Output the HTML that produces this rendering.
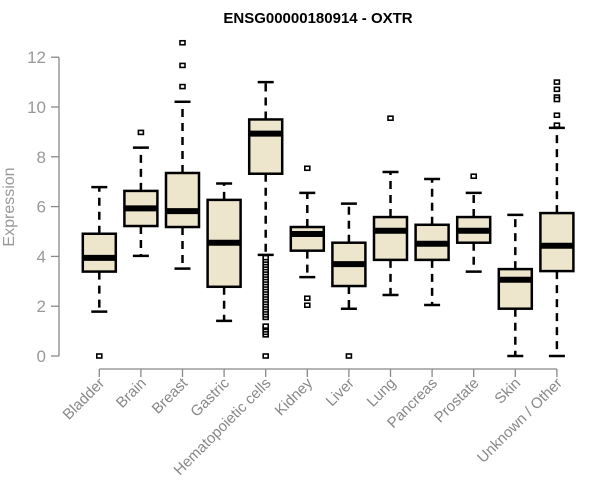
<!DOCTYPE html>
<html><head><meta charset="utf-8"><style>
body{margin:0;background:#fff;}
svg{display:block;font-family:"Liberation Sans",Arial,sans-serif;}
</style></head><body>
<svg id="chart" width="600" height="500">
<text x="318" y="23" text-anchor="middle" font-weight="bold" font-size="15" fill="#000">ENSG00000180914 - OXTR</text>
<text transform="translate(14,207) rotate(-90)" text-anchor="middle" font-size="16" fill="#999">Expression</text>
<g id="axes"></g>
<g id="marks"></g>
</svg>
<script>
const categories=["Bladder","Brain","Breast","Gastric","Hematopoietic cells","Kidney","Liver","Lung","Pancreas","Prostate","Skin","Unknown / Other"];
const lowerWhisker=[1.78,4.02,3.51,1.41,4.06,3.17,1.9,2.45,2.05,3.39,0,0];
const q1=[3.39,5.22,5.18,2.78,7.32,4.23,2.81,3.86,3.86,4.55,1.9,3.41];
const medians=[3.94,5.93,5.82,4.55,8.93,4.9,3.69,5.03,4.51,5.03,3.06,4.43];
const q3=[4.91,6.63,7.35,6.27,9.5,5.18,4.55,5.58,5.27,5.58,3.49,5.74];
const upperWhisker=[6.78,8.37,10.21,6.93,11.0,6.55,6.12,7.39,7.11,6.55,5.67,9.16];
const outliers=[[0],[8.98],[12.58,11.67,10.82],[],
[0,0.85,0.95,1.05,1.15,1.2,1.55,1.65,1.75,1.85,1.95,2.05,2.15,2.25,2.35,2.45,2.55,2.65,2.75,2.85,2.95,3.05,3.15,3.25,3.35,3.45,3.55,3.65,3.75,3.85,3.95],
[7.54,2.32,2.04],[0],[9.55],[],[7.22],[],[11.0,10.71,10.4,10.3,9.67,9.27]];
const yTicks=[0,2,4,6,8,10,12];

const NS="http://www.w3.org/2000/svg";
const y=v=>356-v*24.9;
const x=i=>99.3+i*41.6;
function mk(tag,attrs,parent){const e=document.createElementNS(NS,tag);for(const k in attrs)e.setAttribute(k,attrs[k]);parent.appendChild(e);return e;}
const axes=document.getElementById('axes'),marks=document.getElementById('marks');
let yl=mk('line',{x1:59,x2:59,y1:y(0),y2:y(12),stroke:'#888','stroke-width':1.3},axes);


yTicks.forEach(t=>{
 let tk=mk('line',{x1:51,x2:59,y1:y(t),y2:y(t),stroke:'#888','stroke-width':1.3},axes);
 
 
 let tx=mk('text',{x:46,y:y(t)+6,'text-anchor':'end','font-size':17,fill:'#999'},axes);
 tx.textContent=t;
 
 
});
let xl=mk('line',{x1:x(0),x2:x(categories.length-1),y1:369,y2:369,stroke:'#888','stroke-width':1.3},axes);


categories.forEach((c,i)=>{
 let tk=mk('line',{x1:x(i),x2:x(i),y1:369,y2:377,stroke:'#888','stroke-width':1.3},axes);
 
 
 let tx=mk('text',{'text-anchor':'end','font-size':15,fill:'#888',transform:`translate(${x(i)+6},384) rotate(-45)`},axes);
 tx.textContent=c;
 
 
});
categories.forEach((c,i)=>{
 const g=mk('g',{},marks);
 
 
 const cx=x(i),hw=16.5,cw=8;
 mk('line',{x1:cx,x2:cx,y1:y(q3[i]),y2:y(upperWhisker[i]),stroke:'#000','stroke-width':2.5,'stroke-dasharray':'8,6'},g);
 mk('line',{x1:cx,x2:cx,y1:y(q1[i]),y2:y(lowerWhisker[i]),stroke:'#000','stroke-width':2.5,'stroke-dasharray':'8,6'},g);
 mk('line',{x1:cx-cw,x2:cx+cw,y1:y(upperWhisker[i]),y2:y(upperWhisker[i]),stroke:'#000','stroke-width':2.5},g);
 mk('line',{x1:cx-cw,x2:cx+cw,y1:y(lowerWhisker[i]),y2:y(lowerWhisker[i]),stroke:'#000','stroke-width':2.5},g);
 mk('rect',{x:cx-hw,y:y(q3[i]),width:2*hw,height:y(q1[i])-y(q3[i]),fill:'#ede6cd',stroke:'#000','stroke-width':2.5},g);
 mk('line',{x1:cx-hw,x2:cx+hw,y1:y(medians[i]),y2:y(medians[i]),stroke:'#000','stroke-width':6},g);
 outliers[i].forEach(v=>{
  let p=mk('rect',{x:cx-2.5,y:y(v)-2,width:5,height:4,fill:'#fff',stroke:'#000','stroke-width':1.6},g);
  
  
 });
});
</script>
</body></html>
